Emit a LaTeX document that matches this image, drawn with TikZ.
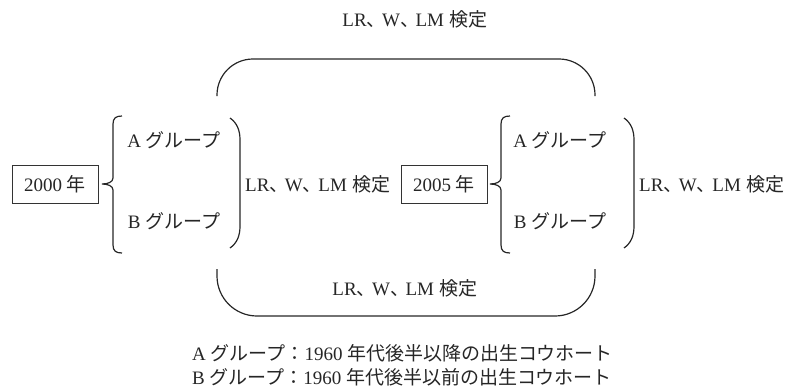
\documentclass[tikz,border=0pt]{standalone}
\usepackage{fontspec}
\setmainfont{Liberation Serif}
\newfontfamily\jpfont{Noto Sans CJK JP}
\newcommand{\J}[1]{{\jpfont #1}}
\newcommand{\Jc}{{\jpfont 、}\kern-3.5pt}
\newcommand{\testlabel}{LR\Jc W\Jc LM\hspace{5.5pt}\J{検定}}
\begin{document}
\begin{tikzpicture}[x=1pt,y=-1pt,
  txt/.style={font=\fontsize{19}{22}\selectfont, text=black!85, inner sep=0pt},
  yearbox/.style={txt, draw=black!80, line width=0.9pt, minimum width=86pt, minimum height=38pt},
  ln/.style={draw=black!85, line width=1.2pt}]
\useasboundingbox (0,0) rectangle (790,389);
% labels
\node[txt] (top) at (415,19) {\testlabel};
\node[yearbox] (y2000) at (55,184) {2000 \J{年}};
\node[txt] (a1) at (174,140) {A \J{グループ}};
\node[txt] (b1) at (174,221) {B \J{グループ}};
\node[txt, anchor=west] (mid) at (245,184) {\testlabel};
\node[yearbox] (y2005) at (444,184) {2005 \J{年}};
\node[txt] (a2) at (560,140) {A \J{グループ}};
\node[txt] (b2) at (560,221) {B \J{グループ}};
\node[txt, anchor=west] (right) at (639,184) {\testlabel};
\node[txt] (bot) at (405,288) {\testlabel};
\node[txt, anchor=west] (leg1) at (192,353) {A \J{グループ：}1960 \J{年代後半以降の出生コウホート}};
\node[txt, anchor=west] (leg2) at (192,377) {B \J{グループ：}1960 \J{年代後半以前の出生コウホート}};
% braces
\foreach \dx in {0,388} {
  \draw[ln] (122+\dx,116) .. controls (116+\dx,116) and (113+\dx,118) .. (113+\dx,124)
    -- (113+\dx,178) .. controls (113+\dx,182) and (108+\dx,184) .. (102+\dx,184)
    .. controls (108+\dx,184) and (113+\dx,186) .. (113+\dx,190)
    -- (113+\dx,245) .. controls (113+\dx,251) and (116+\dx,253) .. (122+\dx,253);
}
% right parens
\foreach \dx in {0,394} {
  \draw[ln] (230+\dx,118) .. controls (237+\dx,123) and (240+\dx,130) .. (240+\dx,140)
    -- (240+\dx,226) .. controls (240+\dx,236) and (237+\dx,243) .. (230+\dx,248);
}
% arcs
\coordinate (tl) at (217,96);
\coordinate (tr) at (595,96);
\coordinate (bl) at (217,269);
\coordinate (br) at (595,269);
\draw[ln, rounded corners=36pt] (tl) -- (217,59) -- (595,59) -- (tr);
\draw[ln, rounded corners=40pt] (bl) -- (217,316) -- (595,316) -- (br);
\end{tikzpicture}
\end{document}
